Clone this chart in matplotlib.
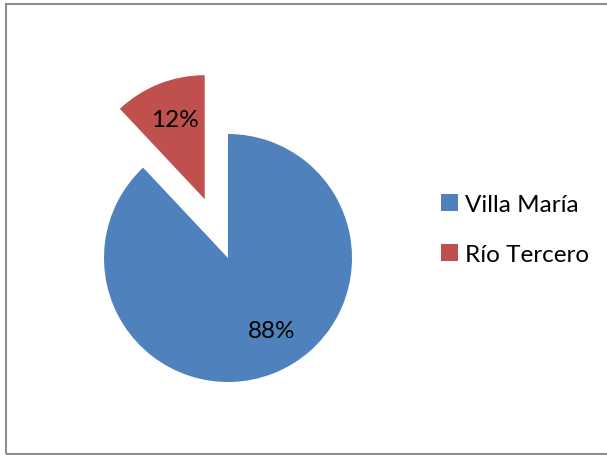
import matplotlib
matplotlib.use("Agg")
import matplotlib.pyplot as plt
from matplotlib.patches import Rectangle

# Share of cases by city
cities = ["Villa María", "Río Tercero"]
shares = [88, 12]
colors = ["#4F81BD", "#C0504D"]

plt.rcParams["font.family"] = ["Lato", "DejaVu Sans"]

W, H = 607, 456
fig = plt.figure(figsize=(W / 100, H / 100), dpi=100)

# Pie geometry in pixels (y measured from the top)
cx, cy, r = 228, 259, 124

ax = fig.add_axes([0, 0, 1, 1])

wedges, _ = ax.pie(
    shares,
    colors=colors,
    startangle=90,
    counterclock=False,
    explode=[0, 0.51],
    radius=1,
    center=(0, 0),
    frame=True,
    wedgeprops=dict(linewidth=0),
)
ax.set_xlim(-cx / r, (W - cx) / r)
ax.set_ylim(-(H - cy) / r, cy / r)
ax.axis("off")

# Percentage labels
label_pos = [(44 / r, -73 / r), (-53 / r, 139 / r)]
for val, (lx, ly) in zip(shares, label_pos):
    ax.text(lx, ly, f"{val}%", ha="center", va="center", fontsize=17.5, color="black")

leg = fig.legend(
    wedges,
    cities,
    loc="center left",
    bbox_to_anchor=(441 / W, 1 - 230.5 / H),
    frameon=False,
    fontsize=17.5,
    handlelength=0.68,
    handleheight=0.68,
    handletextpad=0.3,
    labelspacing=1.2,
    borderpad=0,
    borderaxespad=0,
)

# Chart area border
fig.patches.append(Rectangle((5.5 / W, 1 - 455 / H), (W + 10) / W, (455 - 5) / H,
                             transform=fig.transFigure, fill=False,
                             edgecolor="#8c8c8c", linewidth=1.5))

fig.savefig("out.png", dpi=100)
